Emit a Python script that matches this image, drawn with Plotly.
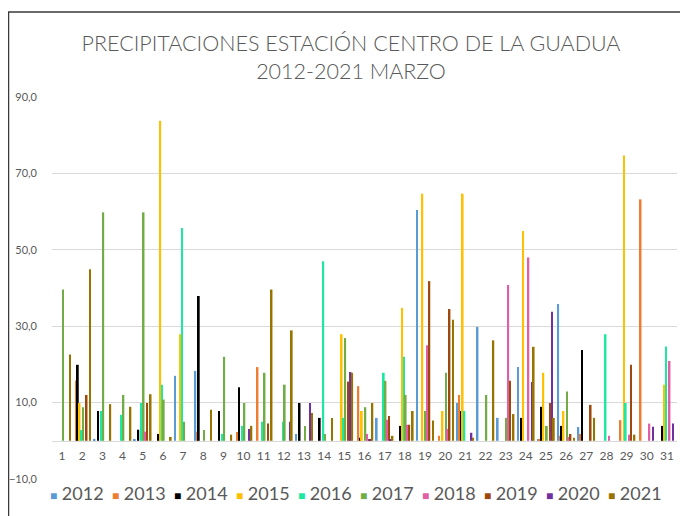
import plotly.graph_objects as go

# ─── Data ─────────────────────────────────────────────────────────────────────

DAYS = list(range(1, 32))
YEARS = ["2012", "2013", "2014", "2015", "2016", "2017", "2018", "2019", "2020", "2021"]
COLORS = ["#5B9BD5", "#ED7D31", "#000000", "#FFC000", "#1CE8A0",
          "#70AD47", "#E05FA5", "#9E480E", "#7030A0", "#997300"]

#           1     2     3     4     5     6     7     8     9    10    11    12    13    14    15    16    17    18    19    20    21    22    23    24    25    26    27    28    29    30    31
P2012 = [   0,    0,  0.5,    0,  0.4,    0, 17.0, 18.3,    0,    0,    0,    0,  1.8,    0,    0,    0,  6.0,    0, 60.4,    0,  9.9, 29.8,  6.0, 19.3,  0.5, 35.8,  3.6,    0,    0,    0,    0]
P2013 = [   0, 15.8,    0,    0,    0,    0,    0,  2.4,    0,  2.3, 19.3,    0,    0,    0,    0, 14.3,    0,    0,    0,  1.3, 12.0,    0,    0,    0,  0.3,  1.3,  1.8,    0,  5.4, 63.2,    0]
P2014 = [   0, 19.9,  7.8,    0,  2.9,  1.8,    0, 37.9,  7.8, 14.0,    0,    0,  9.9,  6.0,    0,  0.8,    0,  3.9,    0,    0,  7.8,    0,    0,  6.0,  8.9,  3.9, 23.8,    0,    0,    0,  3.9]
P2015 = [   0,  9.9,    0,    0,    0, 83.8, 27.9,    0,    0,    0,    0,    0,    0,    0, 27.9,  7.8,    0, 34.8, 64.7,  7.8, 64.7,    0,    0, 54.9, 17.8,  7.8,    0,    0, 74.7,    0, 14.7]
P2016 = [   0,  2.8,  7.8,  6.8,  9.9, 14.7, 55.7,    0,  1.8,  3.9,  5.0,  5.0,    0, 47.0,  6.0,    0, 17.8, 22.0,    0,    0,  7.8,    0,    0,    0,    0,    0,    0, 27.9,  9.9,    0, 24.7]
P2017 = [39.6,  8.8, 59.8, 12.0, 59.8, 10.8,  5.0,  2.8, 22.0,  9.9, 17.8, 14.7,  3.9,  1.8, 26.9,  8.8, 15.7, 12.0,  7.8, 17.8,    0, 12.0,  6.0,    0,  3.9, 12.9,    0,    0,    0,    0,    0]
P2018 = [   0,    0,    0,    0,  2.4,    0,    0,    0,    0,    0,    0,    0,    0,    0,    0,  1.8,  5.5,  4.2, 25.0,  3.1,    0,    0, 40.8, 48.0,    0,  1.0,    0,  1.3,  1.6,  4.5, 20.9]
P2019 = [   0, 12.0,    0,    0,  9.9,    0,    0,    0,    0,    0,  4.5,    0,    0,    0, 15.5,  0.5,  6.5,  4.2, 41.8, 34.5,    0,    0, 15.7,    0,  9.9,  1.8,  9.4,    0, 19.9,    0,    0]
P2020 = [   0,    0,    0,    0,    0,    0,    0,    0,    0,  3.1,    0,  5.0,  9.9,    0, 18.0,  0.3,  0.3,    0,    0,    0,  2.1,    0,    0, 15.4, 33.8,    0,    0,    0,    0,  3.7,  4.5]
P2021 = [22.6, 44.9,  9.6,  8.9, 12.2,  1.0,    0,  8.1,  1.6,  3.9, 39.6, 28.9,  7.3,  6.0, 17.8,  9.9,  1.3,  7.8,  5.3, 31.7,  0.8, 26.3,  7.0, 24.6,  6.0,  0.8,  6.0,    0,  1.6,    0,    0]

SERIES = [P2012, P2013, P2014, P2015, P2016, P2017, P2018, P2019, P2020, P2021]

Y_TICKS = [-10, 10, 30, 50, 70, 90]

# ─── Layout constants ─────────────────────────────────────────────────────────
# the page body keeps its default 8px margin, so the figure is 8px smaller
# than the window and every page position is shifted by that offset

OFF = 8
W, H = 688 - OFF, 516 - OFF
ML, MR, MT, MB = 52 - OFF, 11, 97 - OFF, 37
PW, PH = W - ML - MR, H - MT - MB
TEXT = "#595959"
GRID = "#D9D9D9"
FONT = "Lato, 'Open Sans', sans-serif"


def px_x(px):
    """page x pixel -> paper fraction"""
    return (px - OFF - ML) / PW


def px_y(py):
    """page y pixel -> paper fraction"""
    return (H - MB - (py - OFF)) / PH


fig = go.Figure()

for year, color, vals in zip(YEARS, COLORS, SERIES):
    fig.add_trace(go.Bar(
        x=DAYS, y=vals, name=year,
        marker_color=color, marker_line_width=0,
        showlegend=False,
    ))

# legend drawn as text entries (single row, as in the original)
for i, (year, color) in enumerate(zip(YEARS, COLORS)):
    fig.add_annotation(
        x=px_x(48 + 62 * i), y=px_y(493), xref="paper", yref="paper",
        xanchor="left", yanchor="middle", showarrow=False,
        text=f"<span style='color:{color};font-size:12px'>■</span> {year}",
        font=dict(size=18, color=TEXT, family=FONT),
    )

# chart frame
fig.add_shape(
    type="rect", xref="paper", yref="paper",
    x0=px_x(8.5), x1=px_x(686), y0=px_y(530), y1=px_y(12),
    line=dict(color="#3A3A3A", width=1.5), layer="below",
)

fig.update_layout(
    width=W, height=H,
    margin=dict(l=ML, r=MR, t=MT, b=MB, autoexpand=False),
    paper_bgcolor="white", plot_bgcolor="white",
    separators=",.",
    barmode="group", bargap=0.13, bargroupgap=0,
    font=dict(family=FONT, color=TEXT),
    title=dict(
        text="PRECIPITACIONES ESTACIÓN CENTRO DE LA GUADUA<br>2012-2021 MARZO",
        x=(351 - OFF) / W, xanchor="center",
        y=1 - (51 - OFF) / H, yanchor="middle",
        font=dict(size=21.5, color=TEXT, family=FONT, weight=300),
        automargin=False,
    ),
    xaxis=dict(
        tickvals=DAYS, range=[0.5, 31.5],
        anchor="free", position=10 / 100,
        showline=True, linecolor=GRID, linewidth=1,
        showgrid=False, zeroline=False,
        tickfont=dict(size=12, color=TEXT),
        ticklabelstandoff=4, automargin=False,
    ),
    yaxis=dict(
        range=[-10, 90], tickvals=Y_TICKS, tickformat=".1f",
        showgrid=True, gridcolor=GRID, gridwidth=1,
        zeroline=False, showline=False,
        tickfont=dict(size=11, color=TEXT),
        ticklabelstandoff=14, automargin=False,
    ),
)

fig.write_html("out.html")
